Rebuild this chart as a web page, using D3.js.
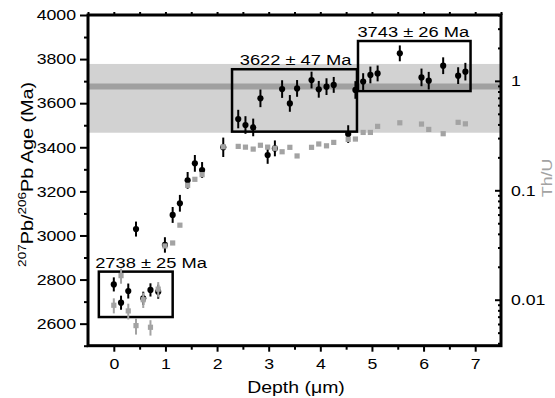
<!DOCTYPE html>
<html>
<head>
<meta charset="utf-8">
<script src="https://cdn.jsdelivr.net/npm/d3@7"></script>
<style>
  body { margin: 0; background: #fff; }
  text { font-family: "Liberation Sans", Arial, sans-serif; }
</style>
</head>
<body>
<svg id="chart" width="555" height="398"></svg>
<script>
// depth of each spot (um)
const depth = [0, 0.14, 0.28, 0.43, 0.57, 0.71, 0.86, 0.99, 1.14, 1.28, 1.43, 1.57, 1.71,
               2.12, 2.41, 2.55, 2.70, 2.84, 2.98, 3.12, 3.26, 3.41, 3.55,
               3.83, 3.97, 4.12, 4.26, 4.54, 4.68, 4.83, 4.97, 5.11, 5.54,
               5.96, 6.10, 6.38, 6.67, 6.81];
// 207Pb/206Pb age (Ma) and its error
const age = [2778, 2695, 2748, 3029, 2715, 2753, 2745, 2957, 3093, 3146, 3250, 3327, 3297,
             3400, 3528, 3501, 3490, 3622, 3365, 3395, 3664, 3599, 3667,
             3705, 3663, 3675, 3683, 3460, 3660, 3698, 3728, 3735, 3826,
             3717, 3702, 3770, 3725, 3743];
const ageErr = [32, 32, 34, 34, 30, 30, 32, 35, 36, 38, 38, 38, 36,
                44, 42, 40, 40, 40, 40, 36, 40, 38, 38,
                38, 38, 38, 36, 40, 40, 38, 38, 36, 36,
                40, 40, 38, 38, 40];
// Th/U (right axis, log) and error
const thu = [0.0089, 0.0166, 0.0079, 0.0058, 0.0100, 0.0056, 0.0125, 0.031, 0.033, 0.048, 0.111, 0.126, 0.139,
             0.250, 0.252, 0.248, 0.238, 0.258, 0.248, 0.242, 0.225, 0.247, 0.206,
             0.247, 0.265, 0.255, 0.274, 0.292, 0.294, 0.338, 0.338, 0.384, 0.414,
             0.403, 0.360, 0.329, 0.418, 0.405];
const thuErr = [0.0014, 0.0026, 0.0013, 0.0010, 0.0016, 0.0009, 0.0020, 0, 0, 0, 0, 0, 0,
                0, 0, 0, 0, 0, 0, 0, 0, 0, 0,
                0, 0, 0, 0, 0, 0, 0, 0, 0, 0,
                0, 0, 0, 0, 0];

// grouped ages
const boxLabels = ["2738 \u00b1 25 Ma", "3622 \u00b1 47 Ma", "3743 \u00b1 26 Ma"];
const boxDepthMin = [-0.29, 2.29, 4.73];
const boxDepthMax = [1.14, 4.71, 6.91];
const boxAgeMin = [2630, 3471, 3655];
const boxAgeMax = [2836, 3754, 3882];
const labelDepth = [0.72, 3.52, 5.80];

// overall band
const bandAge = [3466, 3778];
const meanAge = 3676;

const ageTicks = [2600, 2800, 3000, 3200, 3400, 3600, 3800, 4000];
const ageMinor = [2500, 2700, 2900, 3100, 3300, 3500, 3700, 3900];
const depthTicks = [0, 1, 2, 3, 4, 5, 6, 7];
const depthMinor = [0.5, 1.5, 2.5, 3.5, 4.5, 5.5, 6.5];
const thuTicks = [0.01, 0.1, 1];

const svg = d3.select("#chart");
const pLeft = 88, pRight = 501, pTop = 15, pBottom = 345.7;
const SX = 1.18; // the fonts in the figure are drawn wide
const grey = "#a3a3a3";

const x = d3.scaleLinear().domain([-0.5, 7.5]).range([pLeft, pRight]);
const y = d3.scaleLinear().domain([2500, 4000]).range([pBottom, pTop]);
const yR = d3.scaleLog().domain([0.0038, 4]).range([pBottom, pTop]);

// band and mean line
svg.append("rect")
    .attr("x", pLeft).attr("width", pRight - pLeft)
    .attr("y", y(bandAge[1])).attr("height", y(bandAge[0]) - y(bandAge[1]))
    .attr("fill", "#d2d2d2");
svg.append("line")
    .attr("x1", pLeft).attr("x2", pRight)
    .attr("y1", y(meanAge)).attr("y2", y(meanAge))
    .attr("stroke", "#a0a0a0").attr("stroke-width", 6);

// boxes
const boxes = d3.range(boxLabels.length);
svg.selectAll(".box").data(boxes).enter().append("rect")
    .attr("class", "box")
    .attr("x", i => x(boxDepthMin[i]))
    .attr("y", i => y(boxAgeMax[i]))
    .attr("width", i => x(boxDepthMax[i]) - x(boxDepthMin[i]))
    .attr("height", i => y(boxAgeMin[i]) - y(boxAgeMax[i]))
    .attr("fill", "none").attr("stroke", "#000").attr("stroke-width", 2.5);
svg.selectAll(".boxlabel").data(boxes).enter().append("text")
    .attr("class", "boxlabel")
    .attr("transform", i => `translate(${x(labelDepth[i])},${y(boxAgeMax[i]) - 4}) scale(${SX},1)`)
    .attr("text-anchor", "middle")
    .attr("font-size", 15.5)
    .text(i => boxLabels[i]);

const idx = d3.range(depth.length);

// age points
svg.selectAll(".ageErr").data(idx).enter().append("line")
    .attr("x1", i => x(depth[i])).attr("x2", i => x(depth[i]))
    .attr("y1", i => y(age[i] - ageErr[i])).attr("y2", i => y(age[i] + ageErr[i]))
    .attr("stroke", "#000").attr("stroke-width", 2);
svg.selectAll(".agePt").data(idx).enter().append("circle")
    .attr("cx", i => x(depth[i])).attr("cy", i => y(age[i]))
    .attr("r", 3.1).attr("fill", "#000");

// Th/U points
svg.selectAll(".thuErr").data(idx.filter(i => thuErr[i] > 0)).enter().append("line")
    .attr("x1", i => x(depth[i])).attr("x2", i => x(depth[i]))
    .attr("y1", i => yR(thu[i] - thuErr[i])).attr("y2", i => yR(thu[i] + thuErr[i]))
    .attr("stroke", grey).attr("stroke-width", 2);
svg.selectAll(".thuPt").data(idx).enter().append("rect")
    .attr("x", i => x(depth[i]) - 2.6).attr("y", i => yR(thu[i]) - 2.6)
    .attr("width", 5.2).attr("height", 5.2).attr("fill", grey);

// axes
function styleAxis(g) {
    g.select(".domain").remove();
    g.selectAll(".tick line").attr("stroke-width", 2);
    g.selectAll("text").attr("font-size", 15).attr("fill", "#000")
        .attr("font-family", "Liberation Sans, Arial, sans-serif");
}

svg.append("g").attr("transform", `translate(${pLeft},0)`)
    .call(d3.axisLeft(y).tickValues(ageTicks).tickSize(8).tickFormat(d3.format("d")))
    .call(styleAxis)
    .call(g => g.selectAll("text").attr("x", -12 / SX).attr("transform", `scale(${SX},1)`));
svg.append("g").attr("transform", `translate(${pLeft},0)`)
    .call(d3.axisLeft(y).tickValues(ageMinor).tickSize(4).tickFormat(""))
    .call(styleAxis);

svg.append("g").attr("transform", `translate(0,${pBottom})`)
    .call(d3.axisBottom(x).tickValues(depthTicks).tickSize(6).tickPadding(6.6))
    .call(styleAxis)
    .call(g => g.selectAll("text").attr("transform", `scale(${SX},1)`));
svg.append("g").attr("transform", `translate(0,${pBottom})`)
    .call(d3.axisBottom(x).tickValues(depthMinor).tickSize(4).tickFormat(""))
    .call(styleAxis);

svg.append("g").attr("transform", `translate(0,${pTop})`)
    .call(d3.axisTop(x).tickValues(d3.range(-0.5, 7.6, 0.5)).tickSize(3).tickFormat(""))
    .call(styleAxis);

const thuMinor = [];
[0.001, 0.01, 0.1, 1].forEach(p => d3.range(2, 10).forEach(k => {
    const v = +(k * p).toPrecision(2);
    if (v >= 0.0038 && v <= 4) thuMinor.push(v);
}));
svg.append("g").attr("transform", `translate(${pRight},0)`)
    .call(d3.axisRight(yR).tickValues(thuTicks).tickSize(-6).tickPadding(10).tickFormat(d3.format("~g")))
    .call(styleAxis)
    .call(g => g.selectAll("text").attr("x", 10 / SX).attr("transform", `scale(${SX},1)`));
svg.append("g").attr("transform", `translate(${pRight},0)`)
    .call(d3.axisRight(yR).tickValues(thuMinor).tickSize(-3).tickFormat(""))
    .call(styleAxis);

// frame
svg.append("rect")
    .attr("x", pLeft).attr("y", pTop)
    .attr("width", pRight - pLeft).attr("height", pBottom - pTop)
    .attr("fill", "none").attr("stroke", "#000").attr("stroke-width", 3);

// axis titles
const yTitle = svg.append("text")
    .attr("transform", `translate(33,${(pTop + pBottom) / 2 - 6}) rotate(-90) scale(${SX},1)`)
    .attr("text-anchor", "middle").attr("font-size", 16.8);
yTitle.append("tspan").attr("font-size", 11.5).attr("dy", -7).text("207");
yTitle.append("tspan").attr("dy", 7).text("Pb/");
yTitle.append("tspan").attr("font-size", 11.5).attr("dy", -7).text("206");
yTitle.append("tspan").attr("dy", 7).text("Pb Age (Ma)");

svg.append("text")
    .attr("transform", `translate(552,178) rotate(-90) scale(${SX},1)`)
    .attr("text-anchor", "middle").attr("font-size", 15).attr("fill", grey)
    .text("Th/U");

svg.append("text")
    .attr("transform", `translate(296,393) scale(${SX},1)`)
    .attr("text-anchor", "middle").attr("font-size", 16.5)
    .text("Depth (\u03bcm)");
</script>
</body>
</html>
